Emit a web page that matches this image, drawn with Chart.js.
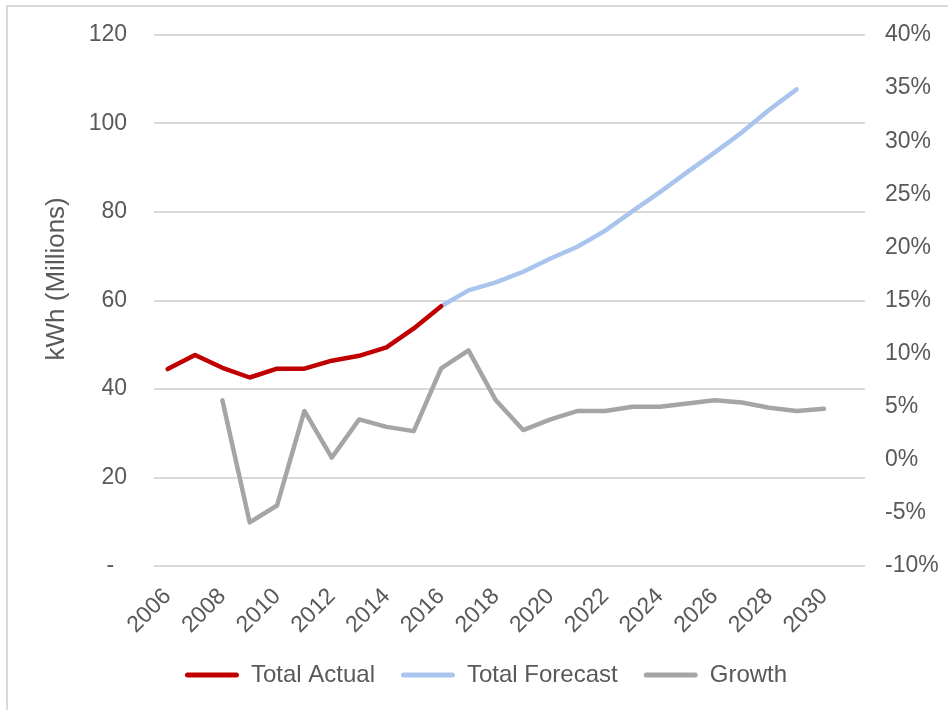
<!DOCTYPE html>
<html>
<head>
<meta charset="utf-8">
<title>kWh forecast</title>
<script src="https://cdn.jsdelivr.net/npm/chart.js@4/dist/chart.umd.min.js"></script>
<style>
  html, body { margin: 0; padding: 0; background: #ffffff; }
  canvas { display: block; }
</style>
</head>
<body>
<canvas id="chart" width="948" height="710"></canvas>
<script>
// Categories (2031 is an empty slot, Excel leaves room for it)
const years = [
  '2006', '2007', '2008', '2009', '2010', '2011', '2012', '2013', '2014',
  '2015', '2016', '2017', '2018', '2019', '2020', '2021', '2022', '2023',
  '2024', '2025', '2026', '2027', '2028', '2029', '2030', '2031'
];

// kWh (Millions), 2006-2016
const totalActual = [44.5, 47.7, 44.8, 42.6, 44.6, 44.6, 46.4, 47.5, 49.4, 53.7, 58.7];

// kWh (Millions), 2016-2029
const totalForecast = [58.7, 62.3, 64.1, 66.5, 69.5, 72.2, 75.8, 80.2, 84.5, 89.0, 93.4, 98.0, 103.1, 107.7];

// Growth in %, 2008-2030
const growth = [5.6, -5.9, -4.3, 4.6, 0.2, 3.8, 3.1, 2.7, 8.6, 10.3, 5.6, 2.8,
  3.8, 4.6, 4.6, 5.0, 5.0, 5.3, 5.6, 5.4, 4.9, 4.6, 4.8];

// Axis ticks
const leftTicks = [0, 20, 40, 60, 80, 100, 120];
const rightTicks = [-10, -5, 0, 5, 10, 15, 20, 25, 30, 35, 40];

const TEXT_COLOR = '#595959';
const FONT = 'Liberation Sans, Arial, sans-serif';

/**
 * Put a series on the year axis, starting at the given year
 */
function alignToYears(values, startYear) {
  const offset = years.indexOf(startYear);
  return years.map((_, i) => {
    const v = values[i - offset];
    return v === undefined ? null : v;
  });
}

// Light frame round the chart, like the Excel chart area
const framePlugin = {
  id: 'frame',
  beforeDraw(chart) {
    const ctx = chart.ctx;
    ctx.save();
    ctx.fillStyle = '#ffffff';
    ctx.fillRect(0, 0, chart.width, chart.height);
    ctx.strokeStyle = '#d9d9d9';
    ctx.lineWidth = 2;
    ctx.strokeRect(7, 6, 1200, 1200);
    ctx.restore();
  }
};

const lineStyle = {
  borderWidth: 4.5,
  pointRadius: 0,
  pointHoverRadius: 0,
  tension: 0,
  borderCapStyle: 'round',
  borderJoinStyle: 'round',
  spanGaps: false
};

new Chart(document.getElementById('chart'), {
  type: 'line',
  data: {
    labels: years,
    datasets: [
      {
        label: 'Total Actual',
        data: alignToYears(totalActual, '2006'),
        borderColor: '#c00000',
        backgroundColor: '#c00000',
        yAxisID: 'y',
        ...lineStyle
      },
      {
        label: 'Total Forecast',
        data: alignToYears(totalForecast, '2016'),
        borderColor: '#a9c5ee',
        backgroundColor: '#a9c5ee',
        yAxisID: 'y',
        ...lineStyle
      },
      {
        label: 'Growth',
        data: alignToYears(growth, '2008'),
        borderColor: '#a5a5a5',
        backgroundColor: '#a5a5a5',
        yAxisID: 'y1',
        ...lineStyle
      }
    ]
  },
  options: {
    responsive: false,
    animation: false,
    devicePixelRatio: 1,
    layout: {
      padding: { left: 24, top: 35, right: 0, bottom: 13 }
    },
    plugins: {
      tooltip: { enabled: false },
      legend: {
        position: 'bottom',
        labels: {
          color: TEXT_COLOR,
          font: { family: FONT, size: 24 },
          boxWidth: 54,
          boxHeight: 5,
          padding: 26,
          useBorderRadius: true,
          borderRadius: 2.5,
          generateLabels(chart) {
            const items = Chart.defaults.plugins.legend.labels.generateLabels(chart);
            return items.map(item => ({ ...item, fillStyle: item.strokeStyle, lineWidth: 0 }));
          }
        }
      }
    },
    scales: {
      x: {
        offset: true,
        grid: { display: false },
        border: { display: false },
        ticks: {
          autoSkip: false,
          maxRotation: 45,
          minRotation: 45,
          padding: 9,
          color: TEXT_COLOR,
          font: { family: FONT, size: 23 },
          callback(value, index) {
            return index % 2 === 0 && index < 25 ? years[index] : '';
          }
        },
        afterFit(scale) {
          scale.height = 71;
        }
      },
      y: {
        position: 'left',
        min: leftTicks[0],
        max: leftTicks[leftTicks.length - 1],
        afterBuildTicks(scale) {
          scale.ticks = leftTicks.map(v => ({ value: v }));
        },
        grid: {
          color: '#d9d9d9',
          lineWidth: 2,
          drawTicks: false
        },
        border: { display: false },
        ticks: {
          padding: 27,
          color: TEXT_COLOR,
          font: { family: FONT, size: 23 },
          callback: value => (value === 0 ? '-  ' : String(value))
        },
        title: {
          display: true,
          // leading spaces lift the title a little, as in the original
          text: '      kWh (Millions)',
          color: TEXT_COLOR,
          font: { family: FONT, size: 26 },
          padding: { top: 17, bottom: 0 }
        },
        afterFit(scale) {
          scale.width = 130;
          // tick padding should not push the plot down
          scale.paddingTop = 0;
          scale.paddingBottom = 0;
        }
      },
      y1: {
        position: 'right',
        min: rightTicks[0],
        max: rightTicks[rightTicks.length - 1],
        afterBuildTicks(scale) {
          scale.ticks = rightTicks.map(v => ({ value: v }));
        },
        grid: { drawOnChartArea: false, drawTicks: false },
        border: { display: false },
        ticks: {
          padding: 20,
          color: TEXT_COLOR,
          font: { family: FONT, size: 23 },
          callback: value => value + '%'
        },
        afterFit(scale) {
          scale.width = 83;
          scale.paddingTop = 0;
          scale.paddingBottom = 0;
        }
      }
    }
  },
  plugins: [framePlugin]
});
</script>
</body>
</html>
